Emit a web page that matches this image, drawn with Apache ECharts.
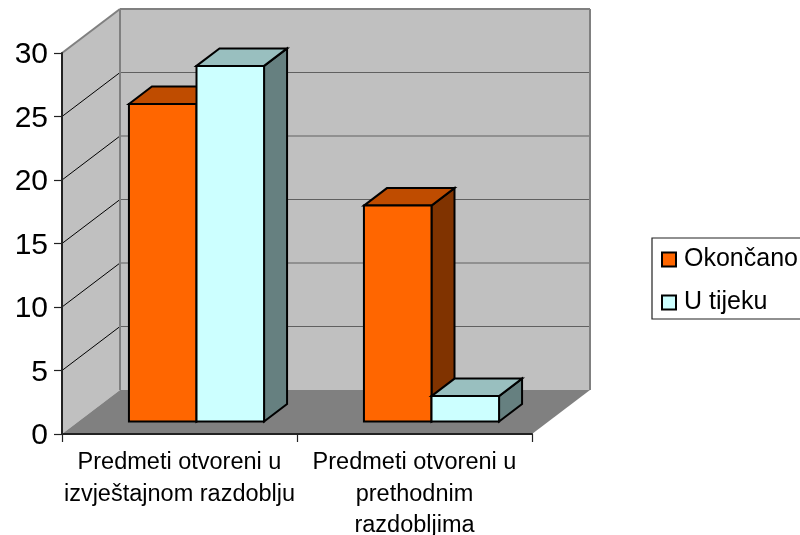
<!DOCTYPE html>
<html>
<head>
<meta charset="utf-8">
<style>html,body{margin:0;padding:0;background:#fff}#c{width:800px;height:535px}</style>
<script src="https://cdn.jsdelivr.net/npm/echarts@6/dist/echarts.min.js"></script>
</head>
<body>
<div id="c"></div>
<script>
const categories = ['Predmeti otvoreni u\nizvještajnom razdoblju', 'Predmeti otvoreni u\nprethodnim\nrazdobljima'];
const okoncano = [25, 17];
const uTijeku = [28, 2];
const yTicks = [0, 5, 10, 15, 20, 25, 30];

const WALL_DX = 58, WALL_DY = -44;
const BAR_SHIFT_X = 17, BAR_SHIFT_Y = -12.5;
const BAR_DX = 23, BAR_DY = -17.5;
const BAR_FRAC = 0.2875;

const chart = echarts.init(document.getElementById('c'), null, {renderer: 'canvas'});

function poly(points, fill, z2, stroke, lw) {
  return {type: 'polygon', z2: z2, shape: {points: points},
    style: {fill: fill, stroke: stroke || null, lineWidth: lw || 0, lineJoin: 'miter'}};
}
function line(x1, y1, x2, y2, color, lw, z2) {
  return {type: 'line', z2: z2, shape: {x1, y1, x2, y2}, style: {stroke: color, lineWidth: lw}};
}

function renderWalls(params, api) {
  const cs = params.coordSys;
  const l = cs.x, r = cs.x + cs.width, t = cs.y, b = cs.y + cs.height;
  const dx = WALL_DX, dy = WALL_DY;
  const kids = [
    poly([[l, b], [l, t], [l + dx, t + dy], [l + dx, b + dy]], '#C0C0C0', 1),
    poly([[l + dx, t + dy], [r + dx, t + dy], [r + dx, b + dy], [l + dx, b + dy]], '#C0C0C0', 1),
    poly([[l, b], [l + dx, b + dy], [r + dx, b + dy], [r, b]], '#808080', 2)
  ];
  yTicks.forEach(function (v) {
    const y = api.coord([0, v])[1];
    if (v > 0 && v < 30) {
      kids.push(line(l, y, l + dx, y + dy, '#000', 1, 3));
      kids.push(line(l + dx, y + dy, r + dx, y + dy, '#606060', 1.2, 3));
    }
  });
  kids.push(line(l, t, l + dx, t + dy, '#808080', 2, 4));
  kids.push(line(l + dx, t + dy, r + dx, t + dy, '#808080', 2, 4));
  kids.push(line(l + dx, t + dy, l + dx, b + dy, '#808080', 2, 4));
  kids.push(line(r + dx, t + dy, r + dx, b + dy, '#808080', 2, 4));
  return {type: 'group', children: kids};
}

function makeBarRenderer(side, colors) {
  return function (params, api) {
    const i = api.value(0), v = api.value(1);
    const cx = api.coord([i, 0])[0] + BAR_SHIFT_X;
    const w = api.size([1, 0])[0] * BAR_FRAC;
    const x0 = side < 0 ? cx - w : cx;
    const x1 = x0 + w;
    const yb = api.coord([i, 0])[1] + BAR_SHIFT_Y;
    const yt = api.coord([i, v])[1] + BAR_SHIFT_Y;
    const s = '#000', lw = 2;
    return {type: 'group', children: [
      poly([[x1, yb], [x1, yt], [x1 + BAR_DX, yt + BAR_DY], [x1 + BAR_DX, yb + BAR_DY]], colors[2], 1, s, lw),
      poly([[x0, yt], [x0 + BAR_DX, yt + BAR_DY], [x1 + BAR_DX, yt + BAR_DY], [x1, yt]], colors[1], 2, s, lw),
      poly([[x0, yb], [x0, yt], [x1, yt], [x1, yb]], colors[0], 3, s, lw)
    ]};
  };
}

chart.setOption({
  animation: false,
  backgroundColor: '#fff',
  textStyle: {fontFamily: '"Liberation Sans", Arial, sans-serif'},
  grid: {left: 62, right: 268, top: 53, bottom: 101, containLabel: false, outerBoundsMode: 'none'},
  xAxis: {
    type: 'category', data: categories, z: 5,
    axisLine: {show: true, lineStyle: {color: '#222', width: 2}},
    axisTick: {show: true, alignWithLabel: false, length: 8, lineStyle: {color: '#222', width: 1.2}},
    axisLabel: {color: '#000', fontSize: 23.5, lineHeight: 31.5, margin: 13, interval: 0, hideOverlap: false, fontFamily: '"Liberation Sans", Arial, sans-serif'},
    splitLine: {show: false}
  },
  yAxis: {
    type: 'value', min: 0, max: 30, interval: 5, z: 5,
    axisLine: {show: true, lineStyle: {color: '#222', width: 2}},
    axisTick: {show: true, length: 8, lineStyle: {color: '#222', width: 1.2}},
    axisLabel: {
      color: '#000', margin: 14, formatter: '{n|{value}}',
      rich: {n: {color: '#000', fontSize: 30, padding: [4, 0, 0, 0], fontFamily: '"Liberation Sans", Arial, sans-serif'}}
    },
    splitLine: {show: false}
  },
  legend: {
    orient: 'vertical', left: 652, top: 238, width: 148,
    data: ['Okončano', 'U tijeku'],
    padding: [9, 4, 4, 9], itemGap: 18, itemWidth: 14, itemHeight: 14,
    borderColor: '#222', borderWidth: 1.2, backgroundColor: '#fff', icon: 'rect',
    itemStyle: {borderColor: '#000', borderWidth: 2},
    textStyle: {color: '#000', fontSize: 25, padding: [0, 0, 0, 3], fontFamily: '"Liberation Sans", Arial, sans-serif'}
  },
  series: [
    {type: 'custom', name: 'walls', silent: true, z: 1, clip: false, renderItem: renderWalls,
      data: [[0, 0]], encode: {x: 0, y: 1}},
    {type: 'custom', name: 'Okončano', z: 2, clip: false, itemStyle: {color: '#FF6600'},
      renderItem: makeBarRenderer(-1, ['#FF6600', '#BF4C00', '#803300']),
      data: okoncano.map(function (v, i) { return [i, v]; }), encode: {x: 0, y: 1}},
    {type: 'custom', name: 'U tijeku', z: 3, clip: false, itemStyle: {color: '#CCFFFF'},
      renderItem: makeBarRenderer(1, ['#CCFFFF', '#99BFBF', '#668080']),
      data: uTijeku.map(function (v, i) { return [i, v]; }), encode: {x: 0, y: 1}}
  ]
});
</script>
</body>
</html>
